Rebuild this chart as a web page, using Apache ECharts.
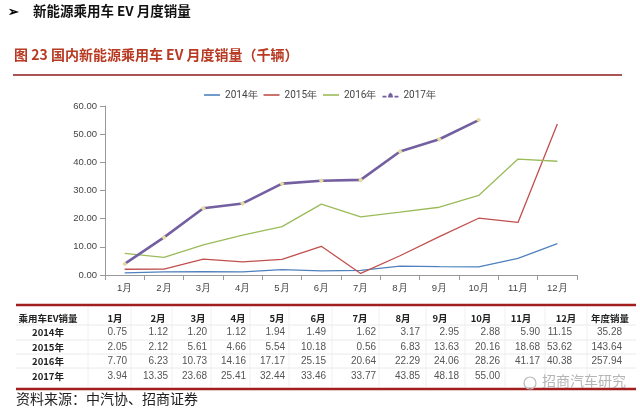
<!DOCTYPE html>
<html><head><meta charset="utf-8">
<script src="https://cdn.jsdelivr.net/npm/echarts@6/dist/echarts.min.js"></script>
<style>html,body{margin:0;padding:0;background:#fff}#c{width:640px;height:412px}</style>
</head><body><div id="c"></div>
<script>
const months = ['1月','2月','3月','4月','5月','6月','7月','8月','9月','10月','11月','12月'];
const seriesNames = ['2014年','2015年','2016年','2017年'];
const s2014 = [0.75,1.12,1.20,1.12,1.94,1.49,1.62,3.17,2.95,2.88,5.90,11.15];
const s2015 = [2.05,2.12,5.61,4.66,5.54,10.18,0.56,6.83,13.63,20.16,18.68,53.62];
const s2016 = [7.70,6.23,10.73,14.16,17.17,25.15,20.64,22.29,24.06,28.26,41.17,40.38];
const s2017 = [3.94,13.35,23.68,25.41,32.44,33.46,33.77,43.85,48.18,55.00];
const annual = ['35.28','143.64','257.94',''];
const yTicks = [0,10,20,30,40,50,60];

const chart = echarts.init(document.getElementById('c'));
const allData = [s2014,s2015,s2016,s2017];
const colors = ['#4F81BD','#C0504D','#9BBB59','#7460A0'];

const colCenters = [48,115,158,198,238,277,318,360,403,440,481,521,566,610];
const colRights  = [0,127,168,207,246,285,326,376,420,459,500,540,572,622];
const rowY = [318,332,347,361,376];
const g = [];
g.push({type:'text',left:8,top:5,style:{text:'➢',font:'bold 13px "Noto Sans CJK SC"',fill:'#000'}});
g.push({type:'text',left:33,top:4,style:{text:'新能源乘用车 EV 月度销量',font:'bold 13.5px "Noto Sans CJK SC"',fill:'#111'}});
g.push({type:'text',left:14,top:48,style:{text:'图 23 国内新能源乘用车 EV 月度销量（千辆）',font:'bold 14px "Noto Sans CJK SC"',fill:'#B83A22'}});
g.push({type:'line',shape:{x1:13,y1:75,x2:622,y2:75},style:{stroke:'#8E1C1C',lineWidth:1.5}});
g.push({type:'line',shape:{x1:16,y1:305,x2:636,y2:305},style:{stroke:'#A21E1E',lineWidth:2.5}});
g.push({type:'line',shape:{x1:16,y1:389,x2:636,y2:389},style:{stroke:'#A21E1E',lineWidth:2.5}});
[325,340,354,368].forEach(y=>g.push({type:'line',shape:{x1:16,y1:y,x2:636,y2:y},style:{stroke:'#E4E4E4',lineWidth:0.8}}));
[88,131,172,211,250,289,332,379,426,465,505,545,587].forEach(x=>g.push({type:'line',shape:{x1:x,y1:307,x2:x,y2:387},style:{stroke:'#ECECEC',lineWidth:0.8}}));
const headers = ['乘用车EV销量'].concat(months).concat(['年度销量']);
headers.forEach((h,i)=>g.push({type:'text',x:colCenters[i],y:rowY[0],style:{text:h,font:'bold 9.5px "Noto Sans CJK SC"',fill:'#222',textAlign:'center',textVerticalAlign:'middle'}}));
allData.forEach((arr,r)=>{
  g.push({type:'text',x:colCenters[0],y:rowY[r+1],style:{text:seriesNames[r],font:'bold 9.5px "Noto Sans CJK SC"',fill:'#222',textAlign:'center',textVerticalAlign:'middle'}});
  arr.forEach((v,c)=>g.push({type:'text',x:colRights[c+1],y:rowY[r+1],style:{text:v.toFixed(2),font:'10px "Liberation Sans"',fill:'#555',textAlign:'right',textVerticalAlign:'middle'}}));
  g.push({type:'text',x:colRights[13],y:rowY[r+1],style:{text:annual[r],font:'10px "Liberation Sans"',fill:'#555',textAlign:'right',textVerticalAlign:'middle'}});
});
g.push({type:'text',left:16,top:392,style:{text:'资料来源：中汽协、招商证券',font:'14px "Noto Sans CJK SC"',fill:'#222'}});
g.push({type:'circle',shape:{cx:530,cy:383,r:6},style:{fill:'none',stroke:'#BBBBBB',lineWidth:1.2}});
g.push({type:'text',left:542,top:374,style:{text:'招商汽车研究',font:'14px "Noto Sans CJK SC"',fill:'rgba(150,150,150,0.7)'}});

const lineIcon = 'path://M0,0 L20,0 L20,2 L0,2 Z';
const dashIcon = 'path://M0,4 L5,4 L5,6 L0,6 Z M7,3 L10,0 L13,3 L10,6 Z M7,4 L13,4 L13,6 L7,6 Z M15,4 L20,4 L20,6 L15,6 Z';
chart.setOption({
  animation:false,
  legend:{top:85,left:'center',itemWidth:16,itemHeight:6,itemGap:6,textStyle:{fontSize:10,color:'#444',fontFamily:'Roboto'},
    data:[{name:seriesNames[0],icon:lineIcon},{name:seriesNames[1],icon:lineIcon},{name:seriesNames[2],icon:lineIcon},
          {name:seriesNames[3],icon:dashIcon,itemStyle:{color:colors[3]}}]},
  grid:{left:105,right:63,top:106,bottom:137},
  xAxis:{type:'category',data:months,boundaryGap:true,
    axisLine:{lineStyle:{color:'#999'}},axisTick:{show:true,lineStyle:{color:'#999'}},
    axisLabel:{fontSize:9.5,color:'#444',margin:8}},
  yAxis:{type:'value',min:0,max:60,interval:10,
    axisLine:{show:true,lineStyle:{color:'#999'}},axisTick:{show:true,lineStyle:{color:'#999'}},splitLine:{show:false},
    axisLabel:{fontSize:9.5,color:'#444',margin:8,formatter:v=>v.toFixed(2)}},
  series:[
    {name:seriesNames[0],type:'line',data:s2014,symbol:'none',lineStyle:{width:1.3,color:colors[0]},itemStyle:{color:colors[0]}},
    {name:seriesNames[1],type:'line',data:s2015,symbol:'none',lineStyle:{width:1.3,color:colors[1]},itemStyle:{color:colors[1]}},
    {name:seriesNames[2],type:'line',data:s2016,symbol:'none',lineStyle:{width:1.3,color:colors[2]},itemStyle:{color:colors[2]}},
    {name:seriesNames[3],type:'line',data:s2017,symbol:'diamond',symbolSize:5,lineStyle:{width:2.6,color:colors[3]},itemStyle:{color:'#E6DCA0'}}
  ],
  graphic:g
});
</script></body></html>
